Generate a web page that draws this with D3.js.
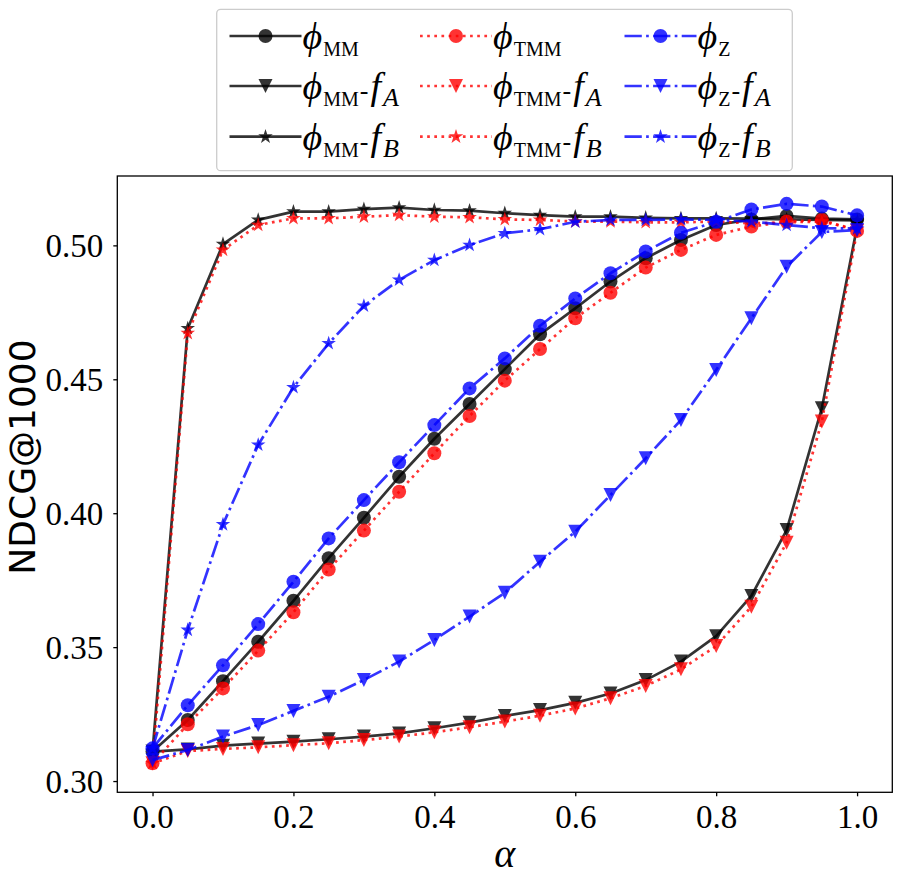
<!DOCTYPE html>
<html>
<head>
<meta charset="utf-8">
<script src="https://d3js.org/d3.v7.min.js"></script>
<style>
  body { margin: 0; background: #fff; }
</style>
</head>
<body>
<div id="my_dataviz"></div>
<script>
// alpha values on the x axis
var alphas = [0.00, 0.05, 0.10, 0.15, 0.20, 0.25, 0.30, 0.35, 0.40, 0.45, 0.50,
              0.55, 0.60, 0.65, 0.70, 0.75, 0.80, 0.85, 0.90, 0.95, 1.00];

// NDCG@1000
var phiMM   = [0.3110, 0.3228, 0.3373, 0.3520, 0.3673, 0.3832, 0.3983, 0.4136, 0.4278, 0.4408, 0.4538,
               0.4668, 0.4765, 0.4865, 0.4952, 0.5020, 0.5076, 0.5097, 0.5110, 0.5100, 0.5097];
var phiMMfA = [0.3110, 0.3118, 0.3132, 0.3140, 0.3147, 0.3156, 0.3166, 0.3178, 0.3197, 0.3218, 0.3243,
               0.3265, 0.3292, 0.3327, 0.3377, 0.3446, 0.3541, 0.3691, 0.3937, 0.4392, 0.5070];
var phiMMfB = [0.3110, 0.4690, 0.5005, 0.5095, 0.5126, 0.5126, 0.5135, 0.5141, 0.5132, 0.5130, 0.5120,
               0.5113, 0.5107, 0.5107, 0.5103, 0.5101, 0.5101, 0.5100, 0.5097, 0.5095, 0.5093];
var phiTMM   = [0.3066, 0.3212, 0.3346, 0.3487, 0.3630, 0.3790, 0.3935, 0.4080, 0.4224, 0.4363, 0.4495,
                0.4613, 0.4728, 0.4823, 0.4917, 0.4983, 0.5039, 0.5070, 0.5089, 0.5095, 0.5054];
var phiTMMfA = [0.3066, 0.3112, 0.3120, 0.3126, 0.3134, 0.3141, 0.3153, 0.3166, 0.3182, 0.3201, 0.3222,
                0.3244, 0.3271, 0.3309, 0.3355, 0.3417, 0.3504, 0.3651, 0.3890, 0.4342, 0.5054];
var phiTMMfB = [0.3066, 0.4672, 0.4983, 0.5076, 0.5101, 0.5101, 0.5107, 0.5113, 0.5107, 0.5105, 0.5097,
                0.5095, 0.5089, 0.5089, 0.5086, 0.5086, 0.5089, 0.5082, 0.5086, 0.5089, 0.5060];
var phiZ   = [0.3122, 0.3283, 0.3432, 0.3586, 0.3744, 0.3906, 0.4049, 0.4190, 0.4329, 0.4466, 0.4578,
              0.4700, 0.4802, 0.4896, 0.4977, 0.5047, 0.5088, 0.5134, 0.5155, 0.5145, 0.5112];
var phiZfA = [0.3078, 0.3116, 0.3166, 0.3209, 0.3262, 0.3315, 0.3377, 0.3446, 0.3527, 0.3614, 0.3703,
              0.3819, 0.3931, 0.4068, 0.4205, 0.4348, 0.4535, 0.4728, 0.4920, 0.5050, 0.5057];
var phiZfB = [0.3122, 0.3564, 0.3958, 0.4255, 0.4470, 0.4634, 0.4774, 0.4871, 0.4945, 0.5001, 0.5045,
              0.5060, 0.5088, 0.5095, 0.5095, 0.5097, 0.5095, 0.5089, 0.5076, 0.5064, 0.5063];

// tick labels
var xTicks = [0.0, 0.2, 0.4, 0.6, 0.8, 1.0];
var yTicks = [0.30, 0.35, 0.40, 0.45, 0.50];

var methods = ["MM", "TMM", "Z"];
var variants = ["", "A", "B"];

var margin = { top: 176, right: 8.7, bottom: 88.7, left: 117.3 },
    width = 901 - margin.left - margin.right,
    height = 881 - margin.top - margin.bottom;

var serif = "'Liberation Serif', 'DejaVu Serif', serif";

// series table, drawn in the same order as the legend
var series = [
    { method: "MM",  variant: "",  color: "#000000", dash: null, shape: "circle", values: phiMM },
    { method: "MM",  variant: "A", color: "#000000", dash: null, shape: "tri",    values: phiMMfA },
    { method: "MM",  variant: "B", color: "#000000", dash: null, shape: "star",   values: phiMMfB },
    { method: "TMM", variant: "",  color: "#ff0000", dash: "2.7,4.45", shape: "circle", values: phiTMM },
    { method: "TMM", variant: "A", color: "#ff0000", dash: "2.7,4.45", shape: "tri",    values: phiTMMfA },
    { method: "TMM", variant: "B", color: "#ff0000", dash: "2.7,4.45", shape: "star",   values: phiTMMfB },
    { method: "Z",   variant: "",  color: "#0000ff", dash: "17.3,4.3,2.7,4.3", shape: "circle", values: phiZ },
    { method: "Z",   variant: "A", color: "#0000ff", dash: "17.3,4.3,2.7,4.3", shape: "tri",    values: phiZfA },
    { method: "Z",   variant: "B", color: "#0000ff", dash: "17.3,4.3,2.7,4.3", shape: "star",   values: phiZfB }
];

var root = d3.select("#my_dataviz")
    .append("svg")
    .attr("width", 901)
    .attr("height", 881);

var svg = root.append("g")
    .attr("transform", "translate(" + margin.left + "," + margin.top + ")");

var x = d3.scaleLinear()
    .domain([-0.05, 1.05])
    .range([0, width]);

var y = d3.scaleLinear()
    .domain([0.2958, 0.5259])
    .range([height, 0]);

// marker shapes
function markerPath(shape) {
    if (shape == "circle") return d3.symbol(d3.symbolCircle, Math.PI * 7 * 7)();
    if (shape == "star") return d3.symbol(d3.symbolStar, 66)();
    return "M0,7L-7,-7L7,-7Z";
}

// X axis
var xAxis = svg.append("g")
    .attr("transform", "translate(0," + height + ")")
    .call(d3.axisBottom(x).tickValues(xTicks).tickSize(4).tickPadding(8.3).tickFormat(d3.format(".1f")));

// Y axis
var yAxis = svg.append("g")
    .call(d3.axisLeft(y).tickValues(yTicks).tickSize(4).tickPadding(10).tickFormat(d3.format(".2f")));

[xAxis, yAxis].forEach(function(a) {
    a.select(".domain").remove();
    a.selectAll(".tick line").attr("stroke", "#000").attr("stroke-width", 1.3);
    a.selectAll(".tick text")
        .attr("fill", "#000")
        .style("font-family", serif)
        .style("font-size", "33px");
});
yAxis.selectAll(".tick text").attr("dy", "0.34em");

// lines and markers
series.forEach(function(s) {
    var pts = alphas.map(function(a, i) { return [a, s.values[i]]; });
    var g = svg.append("g");
    g.append("path")
        .datum(pts)
        .attr("d", d3.line()
            .x(function(d) { return x(d[0]) })
            .y(function(d) { return y(d[1]) })
        )
        .attr("fill", "none")
        .attr("stroke", s.color)
        .attr("stroke-opacity", 0.8)
        .attr("stroke-width", 2.7)
        .attr("stroke-linejoin", "round")
        .attr("stroke-dasharray", s.dash);
    g.selectAll("path.mark")
        .data(pts)
        .enter()
        .append("path")
        .attr("class", "mark")
        .attr("d", markerPath(s.shape))
        .attr("transform", function(d) { return "translate(" + x(d[0]) + "," + y(d[1]) + ")" })
        .attr("fill", s.color)
        .attr("fill-opacity", 0.8);
});

// frame
svg.append("rect")
    .attr("width", width)
    .attr("height", height)
    .attr("fill", "none")
    .attr("stroke", "#000")
    .attr("stroke-width", 1.3);

// axis labels
root.append("text")
    .attr("x", margin.left + width / 2)
    .attr("y", 866.7)
    .attr("text-anchor", "middle")
    .style("font-family", serif)
    .style("font-style", "italic")
    .style("font-size", "40px")
    .text("α");

root.append("text")
    .attr("transform", "translate(35,457) rotate(-90)")
    .attr("text-anchor", "middle")
    .style("font-family", "'DejaVu Sans', sans-serif")
    .style("font-size", "36px")
    .text("NDCG@1000");

// legend
var legend = root.append("g");
legend.append("rect")
    .attr("x", 216.7)
    .attr("y", 9.3)
    .attr("width", 575.6)
    .attr("height", 161.4)
    .attr("rx", 4)
    .attr("fill", "#fff")
    .attr("fill-opacity", 0.8)
    .attr("stroke", "#cccccc")
    .attr("stroke-width", 1.3);

var colX = [229.5, 420, 624.5],
    rowY = [36, 86, 136.7];

series.forEach(function(s) {
    var col = methods.indexOf(s.method),
        row = variants.indexOf(s.variant);
    var g = legend.append("g")
        .attr("transform", "translate(" + colX[col] + "," + rowY[row] + ")");
    g.append("line")
        .attr("x1", 0).attr("x2", 72)
        .attr("stroke", s.color)
        .attr("stroke-opacity", 0.8)
        .attr("stroke-width", 2.7)
        .attr("stroke-dasharray", s.dash);
    g.append("path")
        .attr("d", markerPath(s.shape))
        .attr("transform", "translate(36,0)")
        .attr("fill", s.color)
        .attr("fill-opacity", 0.8);

    var t = g.append("text")
        .attr("x", 73)
        .attr("y", 13)
        .attr("fill", "#000")
        .style("font-family", serif)
        .style("font-size", "38px");
    t.append("tspan").style("font-style", "italic").text("ϕ");
    t.append("tspan").style("font-size", "20px").attr("dx", 1).attr("dy", 7).text(s.method);
    if (s.variant) {
        t.append("tspan").style("font-size", "26px").attr("dx", 1).attr("dy", -7).text("-");
        t.append("tspan").style("font-style", "italic").attr("dx", 2).text("f");
        t.append("tspan").style("font-style", "italic").style("font-size", "26px").attr("dx", 2).attr("dy", 7).text(s.variant);
    }
});
</script>
</body>
</html>
